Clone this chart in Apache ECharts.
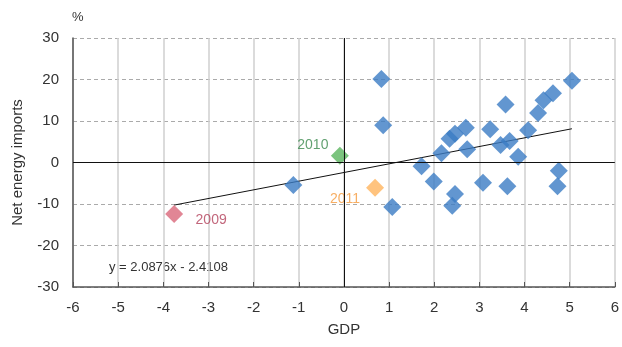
<!DOCTYPE html>
<html>
<head>
<meta charset="utf-8">
<script src="https://cdn.jsdelivr.net/npm/echarts@6/dist/echarts.min.js"></script>
<style>
  html, body { margin: 0; padding: 0; background: #fff; }
  #chart { width: 622px; height: 347px; }
</style>
</head>
<body>
<div id="chart"></div>
<script>
// GDP growth (x) vs net energy imports (y), per year observations
const gdp = [0.83, 0.87, -1.12, 1.07, 1.72, 1.99, 2.16, 2.34, 2.46, 2.70, 2.73, 2.46, 2.40,
             3.08, 3.24, 3.47, 3.58, 3.62, 3.67, 3.86, 4.08, 4.30, 4.42, 4.63, 4.73, 4.76, 5.05];
const imports = [20.1, 9.0, -5.4, -10.7, -0.9, -4.6, 2.2, 5.7, 6.9, 8.4, 3.2, -7.6, -10.4,
                 -4.9, 8.0, 4.2, 14.0, -5.7, 5.2, 1.4, 7.8, 11.9, 15.0, 16.7, -5.7, -2.0, 19.7];

// Highlighted years
const yearLabels = ['2009', '2010', '2011'];
const yearGdp = [-3.76, -0.09, 0.69];
const yearImports = [-12.4, 1.6, -6.1];

// Linear trend: y = slope * x + intercept
const slope = 2.0876;
const intercept = -2.4108;
const trendX = [-3.76, 5.05];

const xTicks = [-6, 6, 1];
const yTicks = [-30, 30, 10];

const font = 'Liberation Sans, Arial, Helvetica, sans-serif';
const chart = echarts.init(document.getElementById('chart'));

const yearColors = ['#d9687a', '#5ab55e', '#ffb45e'];
const yearTextColors = ['#b3405a', '#3b8a4e', '#f59a3c'];
const yearOffsets = [[37, 6], [-27, -11], [-30, 11]];

const yearSeries = yearLabels.map((lbl, i) => ({
  type: 'scatter',
  symbol: 'diamond',
  symbolSize: 18,
  z: 4,
  itemStyle: { color: yearColors[i] },
  label: {
    show: true,
    formatter: lbl,
    position: 'inside',
    offset: yearOffsets[i],
    color: yearTextColors[i],
    fontFamily: font,
    fontSize: 14
  },
  data: [[yearGdp[i], yearImports[i]]]
}));

chart.setOption({
  animation: false,
  grid: { left: 73, right: 6, top: 38, bottom: 60 },
  xAxis: {
    type: 'value',
    min: xTicks[0], max: xTicks[1], interval: xTicks[2],
    name: 'GDP',
    nameLocation: 'middle',
    nameGap: 35,
    nameTextStyle: { color: '#333', fontFamily: font, fontSize: 15 },
    axisLine: { show: true, onZero: false, lineStyle: { color: '#555', width: 1.5 } },
    axisTick: { show: true, inside: true, length: 5, lineStyle: { color: '#555' } },
    axisLabel: { color: '#333', fontFamily: font, fontSize: 15, margin: 13 },
    splitLine: { show: true, lineStyle: { color: '#cfcfcf', width: 1.5 } }
  },
  yAxis: {
    type: 'value',
    min: yTicks[0], max: yTicks[1], interval: yTicks[2],
    name: 'Net energy imports',
    nameLocation: 'middle',
    nameGap: 48,
    nameTextStyle: { color: '#333', fontFamily: font, fontSize: 15 },
    axisLine: { show: true, onZero: false, lineStyle: { color: '#555', width: 1.5 } },
    axisTick: { show: false },
    axisLabel: { color: '#333', fontFamily: font, fontSize: 15, margin: 14 },
    splitLine: { show: true, lineStyle: { color: '#aaa', type: [4, 3], width: 1 } }
  },
  graphic: [
    { type: 'text', left: 72, top: 11,
      style: { text: '%', fill: '#333', font: '13px ' + font } },
    { type: 'text', left: 109, top: 261,
      style: { text: 'y = 2.0876x - 2.4108', fill: '#333', font: '13px ' + font } }
  ],
  series: [
    {
      type: 'line',
      symbol: 'none',
      z: 3,
      lineStyle: { color: '#111', width: 1 },
      data: trendX.map(x => [x, slope * x + intercept]),
      markLine: {
        silent: true,
        symbol: 'none',
        label: { show: false },
        lineStyle: { color: '#111', type: 'solid', width: 1 },
        data: [{ xAxis: 0 }, { yAxis: 0 }]
      }
    },
    {
      type: 'scatter',
      symbol: 'diamond',
      symbolSize: 18,
      z: 4,
      itemStyle: { color: '#3b7cc4' },
      data: gdp.map((x, i) => [x, imports[i]])
    },
    ...yearSeries
  ]
});
</script>
</body>
</html>
